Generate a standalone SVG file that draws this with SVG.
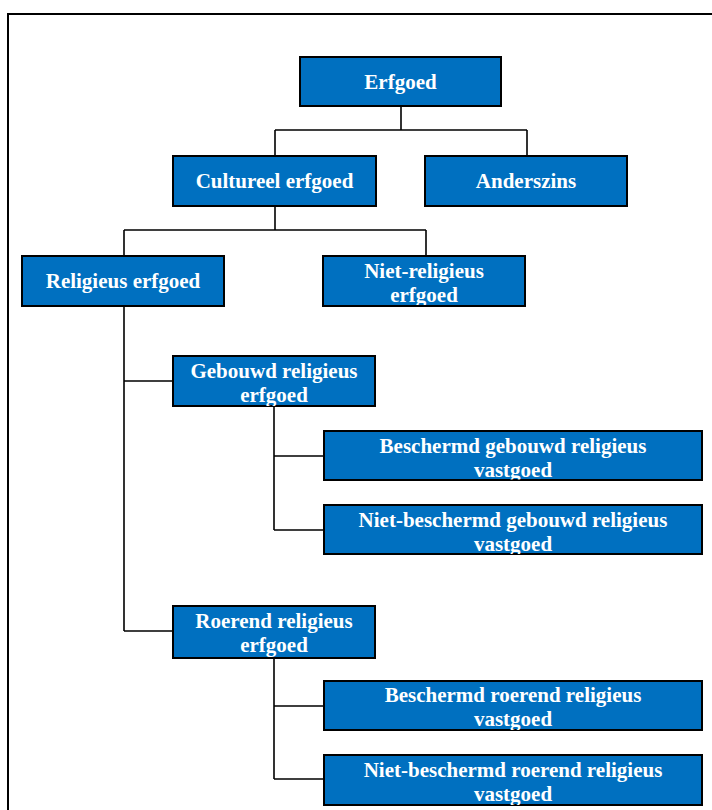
<svg xmlns="http://www.w3.org/2000/svg" width="712" height="810" viewBox="0 0 712 810">
<style>
.box{fill:#0070C0;stroke:#000;stroke-width:2}
.t{font-family:"Liberation Serif","Times New Roman",serif;font-weight:bold;font-size:21px;fill:#fff;text-anchor:middle}
.c{fill:none;stroke:#000;stroke-width:1.6}
.frame{fill:none;stroke:#000;stroke-width:2}
</style>
<defs>
<clipPath id="cp-nr"><rect x="323" y="256" width="202" height="49"/></clipPath>
<clipPath id="cp-geb"><rect x="173" y="356" width="202" height="50"/></clipPath>
<clipPath id="cp-bg"><rect x="324" y="431" width="378" height="48.5"/></clipPath>
<clipPath id="cp-nbg"><rect x="324" y="505" width="378" height="49"/></clipPath>
<clipPath id="cp-roe"><rect x="173" y="606" width="202" height="52"/></clipPath>
<clipPath id="cp-br"><rect x="324" y="681" width="378" height="49"/></clipPath>
<clipPath id="cp-nbr"><rect x="324" y="755" width="378" height="50"/></clipPath>
</defs>
<rect width="712" height="810" fill="#fff"/>
<path class="frame" d="M8 820 V14 H720"/>
<g id="connectors">
<path class="c" d="M401 106 V130 M275 130 H527 M275 130 V156 M527 130 V156"/>
<path class="c" d="M275 206 V230 M124 230 H426 M124 230 V256 M426 230 V256"/>
<path class="c" d="M124 306 V631 M124 381 H173 M124 631 H173"/>
<path class="c" d="M274 406 V530 M274 456 H324 M274 530 H324"/>
<path class="c" d="M274 658 V779 M274 706 H324 M274 779 H324"/>
</g>
<g id="n-erfgoed">
<rect class="box" x="300" y="57" width="201" height="49"/>
<text class="t" x="400.5" y="89">Erfgoed</text>
</g>
<g id="n-cultureel">
<rect class="box" x="173" y="156" width="203" height="50"/>
<text class="t" x="274.5" y="188">Cultureel erfgoed</text>
</g>
<g id="n-anderszins">
<rect class="box" x="425" y="156" width="202" height="50"/>
<text class="t" x="526" y="188">Anderszins</text>
</g>
<g id="n-religieus">
<rect class="box" x="22" y="256" width="202" height="50"/>
<text class="t" x="123" y="288">Religieus erfgoed</text>
</g>
<g id="n-nietreligieus">
<rect class="box" x="323" y="256" width="202" height="50"/>
<g clip-path="url(#cp-nr)"><text class="t" x="424" y="278">Niet-religieus</text><text class="t" x="424" y="302">erfgoed</text></g>
</g>
<g id="n-gebouwd">
<rect class="box" x="173" y="356" width="202" height="50"/>
<g clip-path="url(#cp-geb)"><text class="t" x="274" y="378">Gebouwd religieus</text><text class="t" x="274" y="402">erfgoed</text></g>
</g>
<g id="n-besch-gebouwd">
<rect class="box" x="324" y="431" width="378" height="49"/>
<g clip-path="url(#cp-bg)"><text class="t" x="513" y="453">Beschermd gebouwd religieus</text><text class="t" x="513" y="477">vastgoed</text></g>
</g>
<g id="n-nietbesch-gebouwd">
<rect class="box" x="324" y="505" width="378" height="49"/>
<g clip-path="url(#cp-nbg)"><text class="t" x="513" y="527">Niet-beschermd gebouwd religieus</text><text class="t" x="513" y="551">vastgoed</text></g>
</g>
<g id="n-roerend">
<rect class="box" x="173" y="606" width="202" height="52"/>
<g clip-path="url(#cp-roe)"><text class="t" x="274" y="628">Roerend religieus</text><text class="t" x="274" y="652">erfgoed</text></g>
</g>
<g id="n-besch-roerend">
<rect class="box" x="324" y="681" width="378" height="49"/>
<g clip-path="url(#cp-br)"><text class="t" x="513" y="702">Beschermd roerend religieus</text><text class="t" x="513" y="726">vastgoed</text></g>
</g>
<g id="n-nietbesch-roerend">
<rect class="box" x="324" y="755" width="378" height="50"/>
<g clip-path="url(#cp-nbr)"><text class="t" x="513" y="777">Niet-beschermd roerend religieus</text><text class="t" x="513" y="801">vastgoed</text></g>
</g>
</svg>
